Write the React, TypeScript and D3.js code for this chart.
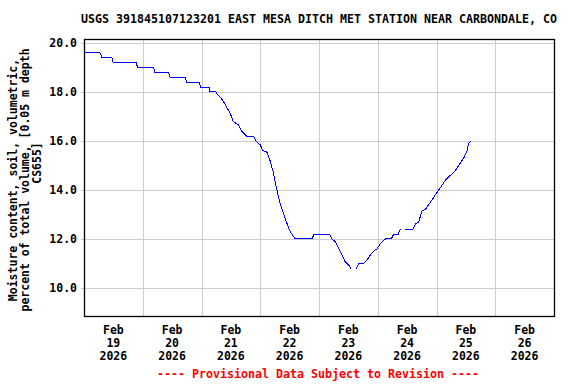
import React from "react";
import * as d3 from "d3";

const title = "USGS 391845107123201 EAST MESA DITCH MET STATION NEAR CARBONDALE, CO";
const yLabelLines = ["Moisture content, soil, volumetric,", "percent of total volume, [0.05 m depth", "CS655]"];
const footer = "---- Provisional Data Subject to Revision ----";

const startDate = Date.UTC(2026, 1, 19);
const endDate = Date.UTC(2026, 1, 27);
const dayLabels = ["19", "20", "21", "22", "23", "24", "25", "26"];
const yTicks = [10, 12, 14, 16, 18, 20];

// hours since Feb 19 00:00 and moisture values (null = data gap)
const hours = [
  0, 6.5, 7.0, 7.4, 11.4, 11.9, 21.3, 21.9, 28.4, 29.0, 34.5, 35.2, 41.3, 41.9, 47.0, 47.7,
  51.1, 51.5, 54.0, 54.5, 55.6, 57.0, 59.7, 61.0, 63.1, 64.5, 66.5, 69.2, 70.3, 72.0, 73.1,
  74.7, 76.0, 77.4, 78.8, 80.1, 81.5, 82.9, 83.9, 84.9, 86.3, 93.1, 94.0, 100.3, 101.3, 102.6,
  104.7, 106.7, 108.1, 109.2, 110.2, 111.2, 112.2, 114.2, 115.6, 117.0, 118.3, 119.7, 121.0,
  123.1, 125.5, 126.5, 128.4, 129.2, 130.2, 131.2, 134.4, 135.3, 136.7, 138.1, 139.4, 140.8,
  142.2, 143.5, 144.9, 146.3, 147.6, 149.7, 151.7, 153.1, 155.1, 156.5, 157.1, 158.2,
];
const moisture: (number | null)[] = [
  19.6, 19.6, 19.5, 19.4, 19.4, 19.2, 19.2, 19.0, 19.0, 18.8, 18.8, 18.6, 18.6, 18.4, 18.4, 18.2,
  18.2, 18.0, 18.0, 17.9, 17.8, 17.6, 17.13, 16.8, 16.65, 16.4, 16.2, 16.2, 16.0, 15.84, 15.6,
  15.55, 15.2, 14.7, 14.0, 13.46, 13.05, 12.64, 12.37, 12.2, 12.0, 12.0, 12.2, 12.2, 12.0, 11.9,
  11.5, 11.07, 10.94, 10.76, null, 10.8, 11.0, 11.0, 11.14, 11.35, 11.5, 11.6, 11.8,
  12.0, 12.0, 12.2, 12.2, 12.4, null, 12.4, 12.4, 12.6, 12.7, 13.14, 13.2, 13.4,
  13.6, 13.8, 14.0, 14.2, 14.4, 14.6, 14.8, 15.0, 15.3, 15.6, 15.9, 16.0,
];

const FONT = "'DejaVu Sans Mono', monospace";

export default function App() {
  const W = 576, H = 384;
  const left = 84, right = 554, top = 39, bottom = 316;
  const x = d3.scaleUtc().domain([new Date(startDate), new Date(endDate)]).range([left, right]);
  const y = d3.scaleLinear().domain([8.857, 20.163]).range([bottom, top]);

  const data = hours.map((h, i) => ({ t: new Date(startDate + h * 3600e3), v: moisture[i] }));
  const line = d3
    .line<{ t: Date; v: number | null }>()
    .defined((d) => d.v !== null)
    .x((d) => x(d.t))
    .y((d) => y(d.v as number));

  const days = d3.utcDay.range(new Date(startDate), new Date(endDate));
  const gridDays = days.slice(1);

  return (
    <svg width={W} height={H} style={{ position: "absolute", left: 0, top: 0, background: "#fff" }}>
      <rect x={0} y={0} width={W} height={H} fill="#fff" />
      <text x={81} y={23} fontFamily={FONT} fontWeight="bold" fontSize={11.5} textLength={476} lengthAdjust="spacingAndGlyphs">
        {title}
      </text>
      {yTicks.map((t) => (
        <g key={t}>
          <line x1={left - 3} x2={right} y1={Math.round(y(t)) + 0.5} y2={Math.round(y(t)) + 0.5} stroke="#cccccc" strokeWidth={1} />
          <text x={77} y={y(t) + 4} textAnchor="end" fontFamily={FONT} fontWeight="bold" fontSize={11.5}>
            {t.toFixed(1)}
          </text>
        </g>
      ))}
      {gridDays.map((d) => (
        <line key={+d} x1={Math.round(x(d)) + 0.5} x2={Math.round(x(d)) + 0.5} y1={top} y2={bottom} stroke="#cccccc" strokeWidth={1} />
      ))}
      <path d={line(data) || ""} fill="none" stroke="#0000ff" strokeWidth={1} shapeRendering="crispEdges" />
      <rect x={left + 0.5} y={top + 0.5} width={right - left} height={bottom - top} fill="none" stroke="#000" strokeWidth={1.3} />
      {days.map((d, i) => {
        const cx = x(new Date(+d + 12 * 3600e3));
        return (
          <text key={+d} x={cx} textAnchor="middle" fontFamily={FONT} fontWeight="bold" fontSize={11.5}>
            <tspan x={cx} y={334}>Feb</tspan>
            <tspan x={cx} y={347}>{dayLabels[i]}</tspan>
            <tspan x={cx} y={360}>{d3.utcFormat("%Y")(d)}</tspan>
          </text>
        );
      })}
      {yLabelLines.map((l, i) => (
        <text
          key={i}
          transform={`translate(${17 + i * 12},${i === 2 ? 163 : 180}) rotate(-90)`}
          textAnchor="middle"
          fontFamily={FONT}
          fontWeight="bold"
          fontSize={11.5}
        >
          {l}
        </text>
      ))}
      <text x={318} y={378} textAnchor="middle" fill="#ff0000" fontFamily={FONT} fontWeight="bold" fontSize={11.5} textLength={322} lengthAdjust="spacingAndGlyphs">
        {footer}
      </text>
    </svg>
  );
}
